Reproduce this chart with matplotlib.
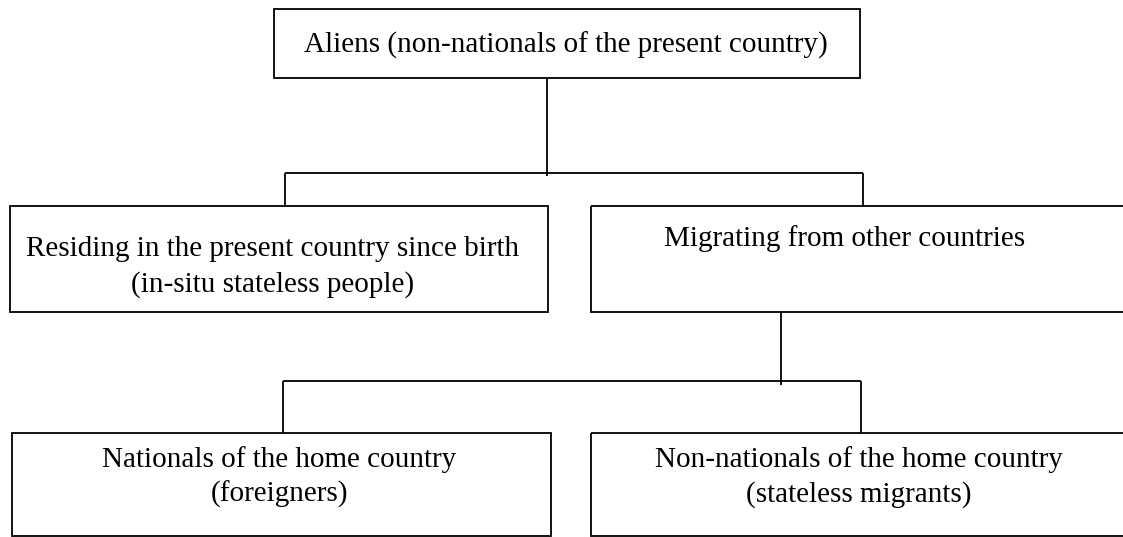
import matplotlib.pyplot as plt
from matplotlib.patches import Rectangle

# box labels, top to bottom, left to right
labels = [
    "Aliens (non-nationals of the present country)",
    "Residing in the present country since birth\n(in-situ stateless people)",
    "Migrating from other countries",
    "Nationals of the home country\n(foreigners)",
    "Non-nationals of the home country\n(stateless migrants)",
]

# box geometry in pixels: left, top, right, bottom
box_left = [274, 10, 591, 12, 591]
box_top = [9, 206, 206, 433, 433]
box_right = [860, 548, 1135, 551, 1135]
box_bottom = [78, 312, 312, 536, 536]

# text anchor (pixels)
text_x = [566, 273, 845, 279, 859]
text_y = [45, 267, 239, 477, 477]

# connectors: (x0, y0, x1, y1)
connectors = [
    (547, 78, 547, 176),
    (285, 173, 863, 173),
    (285, 173, 285, 206),
    (863, 173, 863, 206),
    (781, 312, 781, 385),
    (283, 381, 861, 381),
    (283, 381, 283, 433),
    (861, 381, 861, 433),
]

fig = plt.figure(figsize=(11.23, 5.37), dpi=100)
ax = fig.add_axes([0, 0, 1, 1])
ax.set_xlim(0, 1123)
ax.set_ylim(537, 0)
ax.axis('off')

lw = 1.3
for i in range(len(labels)):
    ax.add_patch(Rectangle((box_left[i], box_top[i]),
                           box_right[i] - box_left[i],
                           box_bottom[i] - box_top[i],
                           fill=False, edgecolor='black', linewidth=lw))
    ax.text(text_x[i], text_y[i], labels[i], ha='center', va='center',
            fontsize=21, family='Liberation Serif', linespacing=1.4)

for x0, y0, x1, y1 in connectors:
    ax.plot([x0, x1], [y0, y1], color='black', linewidth=lw,
            solid_capstyle='butt')

fig.savefig('out.png', dpi=100, facecolor='white')
